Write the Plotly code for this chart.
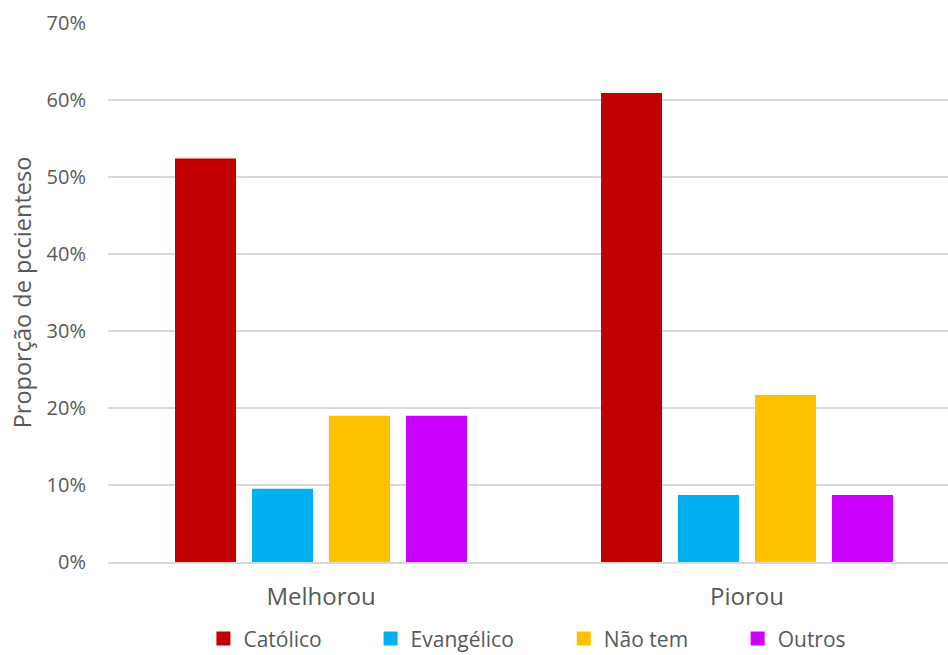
import plotly.graph_objects as go

# Change in condition, grouped by religion
groups = ["Melhorou", "Piorou"]
religions = ["Católico", "Evangélico", "Não tem", "Outros"]
colors = ["#C00000", "#00B0F0", "#FFC000", "#CC00FF"]
values = {
    "Católico": [0.524, 0.609],
    "Evangélico": [0.095, 0.087],
    "Não tem": [0.190, 0.217],
    "Outros": [0.190, 0.087],
}
y_ticks = [0, 0.1, 0.2, 0.3, 0.4, 0.5, 0.6, 0.7]

# left edge of each legend entry, in paper units
legend_x = [0.1136, 0.3126, 0.5426, 0.7496]

font_family = "Open Sans, Segoe UI, sans-serif"
text_color = "#595959"

fig = go.Figure()
for i, (name, color) in enumerate(zip(religions, colors)):
    legend_id = "legend" if i == 0 else f"legend{i + 1}"
    fig.add_trace(go.Bar(
        x=groups,
        y=values[name],
        name=name,
        marker=dict(color=color, line=dict(width=0)),
        showlegend=False,
    ))
    # square swatch used for the legend entry
    fig.add_trace(go.Scatter(
        x=[None],
        y=[None],
        mode="markers",
        name=name,
        marker=dict(symbol="square", size=14, color=color),
        legend=legend_id,
        showlegend=True,
    ))

legend_common = dict(
    orientation="h",
    y=-0.1046,
    yanchor="top",
    xanchor="left",
    font=dict(size=21, color=text_color),
    itemwidth=30,
    bgcolor="rgba(0,0,0,0)",
    maxheight=200,
)

layout_legends = {}
for i, lx in enumerate(legend_x):
    key = "legend" if i == 0 else f"legend{i + 1}"
    layout_legends[key] = dict(legend_common, x=lx)

fig.update_layout(
    width=948,
    height=655,
    margin=dict(l=108, r=0, t=23, b=93, autoexpand=False),
    plot_bgcolor="white",
    paper_bgcolor="white",
    barmode="group",
    bargap=0.277,
    bargroupgap=0.208,
    font=dict(family=font_family, color=text_color, size=20),
    showlegend=True,
    xaxis=dict(
        range=[-0.5, 1.4718],
        showgrid=False,
        showline=True,
        linecolor="#d9d9d9",
        linewidth=1.5,
        ticks="",
        tickfont=dict(size=24, color=text_color),
        ticklabelstandoff=12,
    ),
    yaxis=dict(
        range=[0, 0.7],
        tickvals=y_ticks,
        tickformat=".0%",
        showgrid=True,
        gridcolor="#d9d9d9",
        gridwidth=1.5,
        zeroline=False,
        ticks="",
        ticklabelstandoff=21,
        tickfont=dict(size=20, color=text_color),
        title=dict(text="Proporção de pccienteso", font=dict(size=23.5, color=text_color), standoff=8),
    ),
    **layout_legends,
)

fig.write_html("out.html")
